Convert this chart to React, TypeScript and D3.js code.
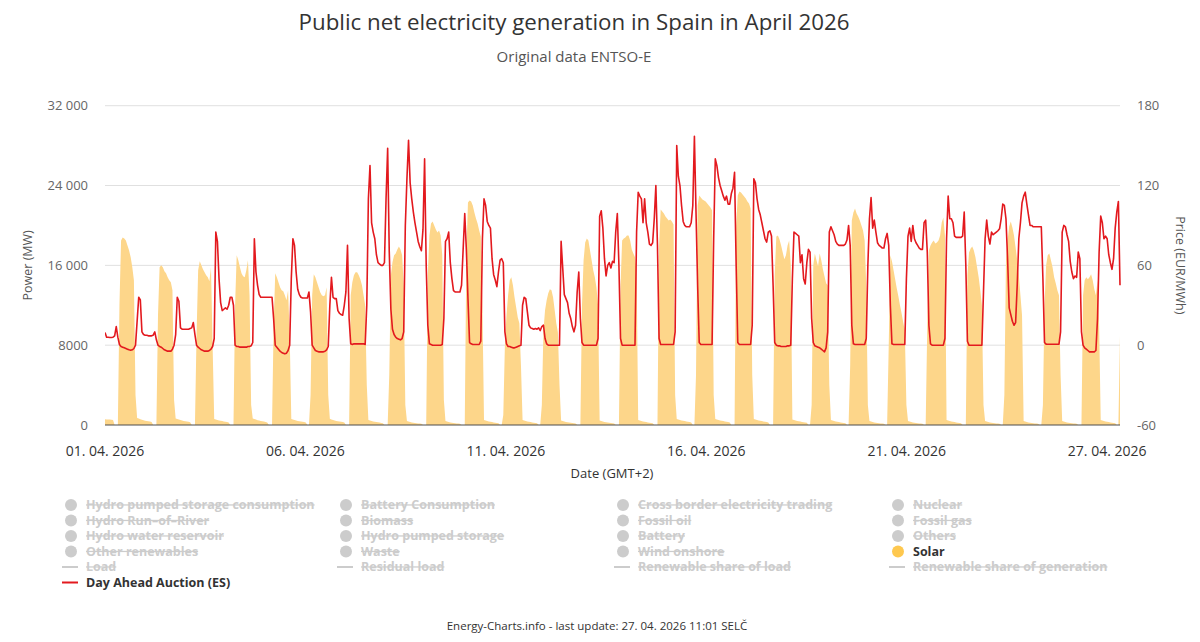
import React from "react";
import * as d3 from "d3";

// ---------- DATA ----------
const START = Date.UTC(2026, 3, 1, 0, 0);
const HOUR = 3600000;
const END_HOURS = 632; // data ends 27.04.2026 08:00

const tickTimes = [
  "2026-04-01T00:00:00Z",
  "2026-04-06T04:48:00Z",
  "2026-04-11T09:36:00Z",
  "2026-04-16T14:24:00Z",
  "2026-04-21T19:12:00Z",
  "2026-04-27T00:00:00Z",
];
const powerTicks = [0, 8000, 16000, 24000, 32000];
const priceTicks = [-60, 0, 60, 120, 180];

// Solar, MW, hourly values per day (h0..h23), 01.04 .. 27.04
const solarMW: number[][] = [
  [570, 560, 550, 540, 530, 500, 0, 0, 0, 12000, 18500, 18800, 18700, 18500, 18000, 17500, 16800, 15800, 14500, 3000, 700, 640, 580, 520],
  [470, 430, 400, 370, 340, 300, 0, 0, 0, 11000, 15800, 16000, 15800, 15400, 15200, 14800, 14500, 14300, 13500, 2500, 650, 600, 550, 500],
  [450, 410, 380, 350, 320, 280, 0, 0, 0, 9000, 15500, 16400, 16000, 15600, 15300, 15000, 14800, 14400, 15800, 8000, 600, 550, 500, 450],
  [420, 390, 360, 330, 300, 260, 0, 0, 0, 12000, 17000, 16500, 15800, 15200, 14900, 14800, 15500, 16500, 13000, 2000, 650, 600, 540, 480],
  [440, 400, 370, 340, 300, 260, 0, 0, 0, 10000, 15200, 14800, 14300, 13800, 13500, 13400, 13000, 12500, 13500, 9000, 600, 560, 500, 450],
  [410, 380, 350, 320, 290, 250, 0, 0, 3000, 13000, 15100, 14800, 14300, 13800, 13300, 13000, 12900, 13000, 13800, 3000, 620, 560, 500, 450],
  [410, 380, 350, 320, 290, 250, 0, 0, 0, 13000, 14300, 15000, 15300, 15300, 15000, 14600, 14000, 13000, 12000, 4000, 500, 450, 400, 360],
  [330, 300, 270, 240, 210, 180, 0, 0, 0, 5000, 15000, 16300, 17000, 17200, 17600, 17900, 17600, 17000, 14000, 2000, 400, 350, 300, 260],
  [230, 200, 180, 160, 140, 120, 0, 0, 0, 15000, 19000, 20200, 20400, 20000, 19600, 19300, 19500, 19000, 17000, 2500, 400, 350, 300, 260],
  [230, 200, 180, 160, 140, 120, 0, 0, 0, 17000, 22300, 22500, 22400, 22000, 21300, 20700, 20200, 19500, 18900, 12000, 500, 450, 400, 350],
  [320, 290, 260, 230, 200, 170, 0, 0, 1000, 8000, 11000, 13000, 14500, 14800, 14000, 12800, 11800, 10800, 10200, 6000, 500, 450, 400, 350],
  [320, 290, 260, 230, 200, 170, 0, 0, 2000, 9500, 11500, 12500, 13200, 13600, 13500, 12800, 11500, 10200, 9300, 4000, 450, 400, 350, 300],
  [280, 250, 220, 200, 180, 150, 0, 0, 0, 12000, 16500, 18300, 18700, 18500, 17500, 16500, 15500, 14800, 13800, 12000, 450, 400, 350, 300],
  [280, 250, 220, 200, 180, 150, 0, 0, 0, 14000, 18500, 18700, 18800, 19000, 19000, 18500, 17600, 17200, 16800, 15500, 500, 450, 400, 350],
  [320, 290, 260, 230, 200, 170, 0, 0, 0, 18000, 21600, 21400, 21200, 20900, 20700, 20500, 20600, 20400, 20100, 3000, 600, 550, 500, 450],
  [420, 390, 360, 330, 300, 260, 0, 0, 5000, 22000, 23000, 22800, 22600, 22500, 22400, 22200, 22000, 21800, 21500, 3000, 600, 550, 500, 450],
  [420, 390, 360, 330, 300, 260, 0, 0, 0, 20000, 23000, 23400, 23300, 23100, 22900, 22700, 22400, 22200, 21700, 5000, 600, 550, 500, 450],
  [420, 390, 360, 330, 300, 260, 0, 0, 0, 15000, 18900, 19000, 18600, 18000, 17300, 16600, 17000, 18000, 18500, 16000, 550, 500, 450, 400],
  [370, 340, 310, 280, 250, 220, 0, 0, 2000, 16000, 17200, 16500, 15900, 17200, 16500, 15600, 14900, 14200, 14000, 4000, 500, 450, 400, 350],
  [320, 290, 260, 230, 200, 170, 0, 0, 6000, 20500, 21300, 21700, 21200, 20900, 20500, 20000, 19500, 18500, 14000, 2000, 400, 350, 300, 260],
  [230, 200, 180, 160, 140, 120, 0, 0, 8000, 17000, 16400, 15500, 14600, 13700, 12900, 12000, 11200, 10300, 9500, 2000, 400, 350, 300, 260],
  [230, 200, 180, 160, 140, 120, 0, 0, 10000, 17500, 18000, 18300, 18500, 18200, 18300, 18500, 19000, 20300, 20800, 19000, 500, 450, 400, 350],
  [320, 290, 260, 230, 200, 170, 0, 0, 0, 15000, 17300, 17700, 17900, 17500, 16800, 15800, 14800, 13500, 12000, 2000, 400, 350, 300, 260],
  [230, 200, 180, 160, 140, 120, 0, 0, 3000, 16500, 18500, 19900, 20400, 19800, 19000, 17800, 16500, 15000, 13000, 11000, 400, 350, 300, 260],
  [230, 200, 180, 160, 140, 120, 0, 0, 2000, 12000, 16000, 17000, 17200, 16500, 15800, 14800, 14200, 13500, 13000, 5000, 400, 350, 300, 260],
  [230, 200, 180, 160, 140, 120, 0, 0, 0, 13000, 14500, 14800, 14600, 14800, 15100, 14500, 13600, 13000, 14500, 10000, 500, 450, 400, 350],
  [320, 290, 260, 230, 200, 170, 0, 0, 9000],
];

// Day Ahead Auction (ES), EUR/MWh, hourly values per day (h0..h23)
const priceEUR: number[][] = [
  [9.5, 6, 6, 5.8, 5.8, 6, 7, 14, 6, 0.5, -1, -1.5, -2, -2.5, -3, -3.5, -3.8, -3.5, -2.5, 0, 18, 36, 34, 10],
  [8, 7.5, 7.5, 7, 7, 7, 7.5, 10, 4, 0, -1, -1.5, -2.5, -3.5, -4, -4.5, -4.5, -4.5, -3, 0, 8, 36, 33, 13],
  [12, 12, 12, 12, 12, 12.5, 13, 17, 8, 0, -1.5, -2.5, -3.5, -4, -4.5, -4.5, -4.5, -4, -3, -1, 5, 85, 78, 50],
  [32, 26, 27, 28, 27, 30, 36, 36, 30, 0, -1, -1, -1.5, -1.5, -1.5, -1.5, -1.5, -1, -1, -0.5, 2, 80, 55, 45],
  [38, 36, 36, 36, 36, 36, 36, 36, 36, 20, 0, -1.5, -3, -4.5, -5.5, -6, -6.5, -6, -4, 0, 50, 80, 75, 55],
  [42, 38, 36, 35.5, 35.5, 35.5, 35.5, 40, 25, 0, -2, -4, -4.5, -5, -5, -5, -5, -4.5, -3.5, -1, 30, 51, 36, 35],
  [35, 26, 24, 23, 22.5, 30, 40, 75, 20, 1, 0.5, 1, 1, 1, 1, 1, 1, 1, 0.5, 30, 110, 135, 92, 85],
  [80, 68, 62, 61, 60, 60, 62, 110, 148, 70, 27, 12, 8, 6, 5, 4.5, 4, 5, 10, 90, 125, 154, 122, 110],
  [100, 92, 85, 78, 74, 71, 87, 140, 60, 15, 1, 0.5, 0, 0, 0, 0, 0, 0, 0.5, 20, 78, 80, 85, 62],
  [50, 41, 40, 40, 40, 40, 45, 72, 99, 72, 35, 2, 1, 0.5, 0.5, 0.5, 0.5, 0.5, 3, 80, 110, 105, 93, 90],
  [88, 65, 53, 49, 44, 55, 64, 65, 62, 10, 1, -1, -1, -1.5, -2, -2, -1.5, -1, -0.5, 0, 30, 36, 35, 25],
  [15, 13, 12.5, 12, 12.5, 12, 13, 11, 14, 15, 5, 1, 0, 0, 0, 0, 0, 0, 0, 0, 78, 58, 38, 35],
  [32, 24, 20, 14, 10, 15, 40, 55, 20, 2, 0, 0, 0, 0, 0, 0, 0, 0, 0, 5, 97, 101, 88, 65],
  [52, 60, 62, 58, 63, 62, 85, 99, 60, 5, 0, 0, 0, 0, 0, 0, 0, 0, 0, 85, 115, 112, 110, 92],
  [110, 92, 85, 76, 75, 77, 95, 120, 75, 5, 0.5, 0.5, 0.5, 0.5, 0.5, 0.5, 0.5, 0.5, 0.5, 10, 150, 127, 120, 105],
  [93, 90, 89, 89, 89, 92, 105, 157, 100, 45, 2, 0.5, 0.5, 0.5, 0.5, 0.5, 0.5, 0.5, 0.5, 80, 140, 135, 126, 120],
  [116, 112, 109, 112, 106, 106, 114, 118, 130, 60, 2, 0.5, 0.5, 0.5, 0.5, 0.5, 0.5, 0.5, 0.5, 15, 125, 122, 110, 102],
  [98, 92, 86, 80, 77.5, 85, 86, 82, 45, 2, 0, -0.5, -0.5, -1, -1, -1, -1, -0.5, -0.5, 0, 50, 85, 84, 83],
  [82, 62, 68, 50, 46, 62, 72, 70, 20, 2, -0.5, -1, -1.5, -2, -3, -4, -5, -2, 10, 85, 89, 86, 83, 78],
  [76, 75, 75, 75, 75, 76, 79, 90, 75, 15, 1, 0.5, 0.5, 0.5, 0.5, 0.5, 0.5, 0.5, 5, 60, 95, 111, 88, 94],
  [85, 77, 75, 74, 73, 73, 80, 84, 75, 30, 1, 0.5, 0.5, 0.5, 0.5, 0.5, 0.5, 0.5, 0.5, 50, 82, 88, 78, 90],
  [80, 77, 75, 73, 72, 72, 92, 94, 70, 15, 1, 0, 0, 0, 0, 0, 0, 0, 0, 5, 80, 112, 95, 95],
  [92, 82, 81, 81, 81, 81, 82, 100, 60, 3, 0, 0, 0, 0, 0, 0, 0, 0, 0, 40, 80, 94, 82, 76],
  [85, 83, 84, 85, 86, 87.5, 95, 106, 105, 95, 65, 28, 23, 18, 15, 17, 45, 80, 92, 107, 112, 115, 106, 98],
  [90, 90, 89, 89, 89, 89, 89, 89, 50, 2, 0.75, 0.75, 0.75, 0.75, 0.75, 0.75, 0.75, 0.75, 0.75, 10, 85, 90, 89, 83],
  [78, 63, 55, 50, 52, 51, 70, 65, 10, 0, -2, -3, -4, -5, -5, -5, -5, -4, 20, 70, 97, 92, 80, 82],
  [80, 68, 62, 57, 65, 88, 100, 108, 45],
];

const legendNames = [
  "Hydro pumped storage consumption", "Battery Consumption", "Cross border electricity trading", "Nuclear",
  "Hydro Run\u2013of\u2013River", "Biomass", "Fossil oil", "Fossil gas",
  "Hydro water reservoir", "Hydro pumped storage", "Battery", "Others",
  "Other renewables", "Waste", "Wind onshore", "Solar",
  "Load", "Residual load", "Renewable share of load", "Renewable share of generation",
  "Day Ahead Auction (ES)",
];
const legendLineItems = ["Load", "Residual load", "Renewable share of load", "Renewable share of generation", "Day Ahead Auction (ES)"];
const legendActive = ["Solar", "Day Ahead Auction (ES)"];

// ---------- CHART ----------
type Pt = { t: Date; v: number };

const FONT = "'Open Sans', 'Noto Sans', sans-serif";
const SOLAR_FILL = "#fdd68a";
const SOLAR_DOT = "#fec84f";
const PRICE_COLOR = "#e3191e";

function fmtPower(v: number): string {
  if (v >= 10000) return d3.format(",")(v).replace(/,/g, " ");
  return String(v);
}

export default function App() {
  const W = 1200;
  const H = 642;
  const left = 105;
  const right = 1120;
  const top = 105.7;
  const bottom = 425;

  const x = d3
    .scaleUtc()
    .domain([new Date(START), new Date(START + END_HOURS * HOUR)])
    .range([left, right]);
  const yP = d3.scaleLinear().domain([0, 32000]).range([bottom, top]);
  const yE = d3.scaleLinear().domain([-60, 180]).range([bottom, top]);

  const solarPts: Pt[] = solarMW.flatMap((day, d) =>
    day.map((v, h) => ({ t: new Date(START + (d * 24 + h) * HOUR), v }))
  );
  const pricePts: Pt[] = priceEUR.flatMap((day, d) =>
    day.map((v, h) => ({ t: new Date(START + (d * 24 + h) * HOUR), v }))
  );

  const area = d3
    .area<Pt>()
    .x((p) => x(p.t))
    .y0(yP(0))
    .y1((p) => yP(p.v));
  const line = d3
    .line<Pt>()
    .x((p) => x(p.t))
    .y((p) => yE(p.v));

  const fmtDate = d3.utcFormat("%d. %m. %Y");

  const legendX = [71, 346, 623, 898];
  const legendY0 = 505;
  const legendDy = 15.5;

  return (
    <svg
      width={W}
      height={H}
      viewBox={`0 0 ${W} ${H}`}
      style={{ position: "absolute", left: 0, top: 0, background: "#fff" }}
      fontFamily={FONT}
    >
      <defs>
        <clipPath id="plotClip">
          <rect x={left} y={top - 2} width={right - left + 1} height={bottom - top + 2} />
        </clipPath>
      </defs>
      <rect x={0} y={0} width={W} height={H} fill="#fff" />

      {/* Title */}
      <text x={574} y={30} textAnchor="middle" fontSize={22.3} fill="#333">
        Public net electricity generation in Spain in April 2026
      </text>
      <text x={574} y={62} textAnchor="middle" fontSize={15} fill="#555">
        Original data ENTSO-E
      </text>

      {/* Grid */}
      {powerTicks
        .filter((v) => v > 0)
        .map((v) => (
          <line key={v} x1={left} x2={right} y1={yP(v)} y2={yP(v)} stroke="#e0e0e0" strokeWidth={1} />
        ))}

      {/* Series */}
      <g clipPath="url(#plotClip)">
        <path d={area(solarPts) || ""} fill={SOLAR_FILL} stroke="none" />
        <path
          d={line(pricePts) || ""}
          fill="none"
          stroke={PRICE_COLOR}
          strokeWidth={1.6}
          strokeLinejoin="round"
        />
      </g>

      {/* X axis line */}
      <line x1={left} x2={right} y1={bottom} y2={bottom} stroke="#4d4d4d" strokeWidth={1} />

      {/* Left axis */}
      {powerTicks.map((v) => (
        <text key={v} x={88} y={yP(v) + 4.5} textAnchor="end" fontSize={13} fill="#666">
          {fmtPower(v)}
        </text>
      ))}
      <text
        transform={`translate(32, ${(top + bottom) / 2}) rotate(-90)`}
        textAnchor="middle"
        fontSize={12.5}
        fill="#555"
      >
        Power (MW)
      </text>

      {/* Right axis */}
      {priceTicks.map((v) => (
        <text key={v} x={1137} y={yE(v) + 4.5} textAnchor="start" fontSize={13} fill="#666">
          {String(v)}
        </text>
      ))}
      <text
        transform={`translate(1176, ${(top + bottom) / 2}) rotate(90)`}
        textAnchor="middle"
        fontSize={12.5}
        fill="#555"
      >
        Price (EUR/MWh)
      </text>

      {/* X ticks */}
      {tickTimes.map((s) => {
        const d = new Date(s);
        return (
          <text key={s} x={x(d)} y={456} textAnchor="middle" fontSize={14} fill="#333">
            {fmtDate(d)}
          </text>
        );
      })}
      <text x={612} y={478} textAnchor="middle" fontSize={13} fill="#333">
        Date (GMT+2)
      </text>

      {/* Legend */}
      {legendNames.map((name, i) => {
        const col = i % 4;
        const row = Math.floor(i / 4);
        const cx = legendX[col];
        const cy = legendY0 + row * legendDy;
        const active = legendActive.includes(name);
        const isLine = legendLineItems.includes(name);
        const symColor = active ? (isLine ? PRICE_COLOR : SOLAR_DOT) : "#cccccc";
        return (
          <g key={name}>
            {isLine ? (
              <line x1={cx - 9} x2={cx + 7} y1={cy} y2={cy} stroke={symColor} strokeWidth={2} />
            ) : (
              <circle cx={cx} cy={cy} r={6} fill={symColor} />
            )}
            <text
              x={cx + 15}
              y={cy + 4.3}
              fontSize={12.5}
              fontWeight="bold"
              fill={active ? "#333" : "#cccccc"}
              style={active ? undefined : { textDecoration: "line-through" }}
            >
              {name}
            </text>
          </g>
        );
      })}

      {/* Footer */}
      <text x={597} y={630} textAnchor="middle" fontSize={11.5} fill="#333">
        Energy-Charts.info - last update: 27. 04. 2026 11:01 SELČ
      </text>
    </svg>
  );
}
